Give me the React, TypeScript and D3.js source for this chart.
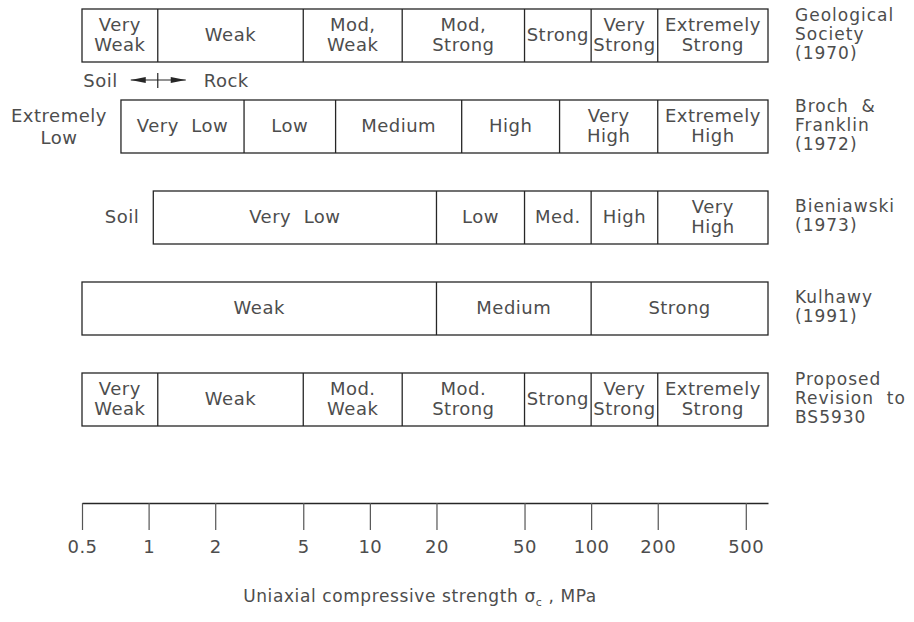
import React, { useEffect, useRef } from 'react';
import * as d3 from 'd3';

// axis
const tickValues = [0.5, 1, 2, 5, 10, 20, 50, 100, 200, 500];
const axisMin = 0.5;
const axisMax = 630;

// classification schemes (MPa)
const schemeNames = ['gs', 'broch', 'bieniawski', 'kulhawy', 'proposed'];
const schemeTitles = [
  ['Geological', 'Society', '(1970)'],
  ['Broch  &', 'Franklin', '(1972)'],
  ['Bieniawski', '(1973)'],
  ['Kulhawy', '(1991)'],
  ['Proposed', 'Revision  to', 'BS5930'],
];

const gsBounds = [0.5, 1.1, 5, 14, 50, 100, 200, 630];
const gsLabels = [['Very', 'Weak'], ['Weak'], ['Mod,', 'Weak'], ['Mod,', 'Strong'], ['Strong'], ['Very', 'Strong'], ['Extremely', 'Strong']];

const brochBounds = [0.75, 2.7, 7, 26, 72, 200, 630];
const brochLabels = [['Very  Low'], ['Low'], ['Medium'], ['High'], ['Very', 'High'], ['Extremely', 'High']];
const brochOutside = ['Extremely', 'Low'];

const bieniawskiBounds = [1.05, 20, 50, 100, 200, 630];
const bieniawskiLabels = [['Very  Low'], ['Low'], ['Med.'], ['High'], ['Very', 'High']];
const bieniawskiOutside = ['Soil'];

const kulhawyBounds = [0.5, 20, 100, 630];
const kulhawyLabels = [['Weak'], ['Medium'], ['Strong']];

const proposedBounds = [0.5, 1.1, 5, 14, 50, 100, 200, 630];
const proposedLabels = [['Very', 'Weak'], ['Weak'], ['Mod.', 'Weak'], ['Mod.', 'Strong'], ['Strong'], ['Very', 'Strong'], ['Extremely', 'Strong']];

const soilRockBoundary = 1.1;
const axisTitle = 'Uniaxial compressive strength σ';

const FONT = "'DejaVu Sans', sans-serif";
const TEXT = '#4d4d4d';
const LINE = '#262626';

type Scheme = { name: string; title: string[]; bounds: number[]; labels: string[][] };

const schemes: Scheme[] = [
  { name: 'gs', title: schemeTitles[0], bounds: gsBounds, labels: gsLabels },
  { name: 'broch', title: schemeTitles[1], bounds: brochBounds, labels: brochLabels },
  { name: 'bieniawski', title: schemeTitles[2], bounds: bieniawskiBounds, labels: bieniawskiLabels },
  { name: 'kulhawy', title: schemeTitles[3], bounds: kulhawyBounds, labels: kulhawyLabels },
  { name: 'proposed', title: schemeTitles[4], bounds: proposedBounds, labels: proposedLabels },
];

function addLines(g: any, lines: string[], cx: number, cy: number, pitch: number, anchor = 'middle', capHalf = 6.5) {
  const t = g.append('text')
    .attr('text-anchor', anchor)
    .attr('fill', TEXT)
    .style('white-space', 'pre');
  lines.forEach((line, i) => {
    t.append('tspan')
      .attr('x', cx)
      .attr('y', cy - ((lines.length - 1) * pitch) / 2 + i * pitch + capHalf)
      .text(line);
  });
  return t;
}

export default function App() {
  const ref = useRef<SVGSVGElement>(null);

  useEffect(() => {
    const width = 914;
    const height = 622;
    const svg = d3.select(ref.current);
    svg.selectAll('*').remove();
    svg.attr('width', width).attr('height', height);

    svg.append('rect').attr('width', width).attr('height', height).attr('fill', '#fff');

    const root = svg.append('g')
      .attr('font-family', FONT)
      .attr('font-size', 18)
      .attr('letter-spacing', 0.5);

    const x = d3.scaleLog().domain([axisMin, axisMax]).range([82, 768]);
    const y = d3.scaleBand<string>()
      .domain(schemeNames)
      .range([9, 426])
      .paddingInner(38 / 91)
      .paddingOuter(0);
    const bh = y.bandwidth();

    schemes.forEach(s => {
      const g = root.append('g').attr('transform', `translate(0,${y(s.name)})`);
      const b = s.bounds;
      const cy = bh / 2;

      g.append('rect')
        .attr('x', x(b[0]))
        .attr('y', 0)
        .attr('width', x(b[b.length - 1]) - x(b[0]))
        .attr('height', bh)
        .attr('fill', 'none')
        .attr('stroke', LINE)
        .attr('stroke-width', 1.3);

      g.selectAll('line.div')
        .data(b.slice(1, -1))
        .join('line')
        .attr('class', 'div')
        .attr('x1', d => x(d))
        .attr('x2', d => x(d))
        .attr('y1', 0)
        .attr('y2', bh)
        .attr('stroke', LINE)
        .attr('stroke-width', 1.3);

      s.labels.forEach((lines, i) => {
        const cx = (x(b[i]) + x(b[i + 1])) / 2;
        addLines(g, lines, cx, cy - 1, 20);
      });

      // scheme name on the right
      addLines(g, s.title, x(axisMax) + 27, cy - 2, 19, 'start', 6.2)
        .attr('font-size', 17)
        .attr('letter-spacing', 1);
    });

    // labels left of the boxes
    const brochG = root.append('g').attr('transform', `translate(0,${y('broch')})`);
    addLines(brochG, brochOutside, x(brochBounds[0]) - 62, bh / 2, 22);
    const bieniG = root.append('g').attr('transform', `translate(0,${y('bieniawski')})`);
    addLines(bieniG, bieniawskiOutside, x(bieniawskiBounds[0]) - 14, bh / 2 - 1, 20, 'end');

    // soil / rock arrow
    const sx = x(soilRockBoundary);
    const sy = ((y('gs') as number) + bh + (y('broch') as number)) / 2 - 1;
    const arrow = root.append('g');
    arrow.append('line')
      .attr('x1', sx - 27).attr('x2', sx + 28)
      .attr('y1', sy).attr('y2', sy)
      .attr('stroke', LINE).attr('stroke-width', 1.2);
    arrow.append('line')
      .attr('x1', sx).attr('x2', sx)
      .attr('y1', sy - 7).attr('y2', sy + 8)
      .attr('stroke', LINE).attr('stroke-width', 1.2);
    arrow.append('path')
      .attr('d', `M${sx - 27},${sy} L${sx - 12},${sy - 3} L${sx - 12},${sy + 3} Z`)
      .attr('fill', LINE);
    arrow.append('path')
      .attr('d', `M${sx + 28},${sy} L${sx + 13},${sy - 3} L${sx + 13},${sy + 3} Z`)
      .attr('fill', LINE);
    addLines(arrow, ['Soil'], sx - 40, sy, 20, 'end');
    addLines(arrow, ['Rock'], sx + 46, sy, 20, 'start');

    // axis
    const axisY = 503;
    const axis = d3.axisBottom(x)
      .tickValues(tickValues)
      .tickFormat(d => String(d))
      .tickSize(27)
      .tickSizeOuter(0)
      .tickPadding(10);
    const ax = root.append('g').attr('transform', `translate(0,${axisY})`).call(axis as any);
    ax.attr('font-family', FONT).attr('font-size', 18);
    ax.select('.domain').attr('stroke', LINE).attr('stroke-width', 1.3);
    ax.selectAll('.tick line').attr('stroke', '#555').attr('stroke-width', 1.2);
    ax.selectAll('.tick text').attr('fill', TEXT);

    const title = root.append('text')
      .attr('x', (x.range()[0] + x.range()[1]) / 2 - 5)
      .attr('y', 602)
      .attr('text-anchor', 'middle')
      .attr('font-size', 17)
      .attr('letter-spacing', 0.6)
      .attr('fill', TEXT);
    title.append('tspan').text(axisTitle);
    title.append('tspan').attr('font-size', 11).attr('dy', 4).text('c');
    title.append('tspan').attr('dy', -4).text(' , MPa');
  }, []);

  return (
    <div style={{ position: 'absolute', left: 0, top: 0 }}>
      <svg ref={ref} style={{ display: 'block' }} />
    </div>
  );
}
